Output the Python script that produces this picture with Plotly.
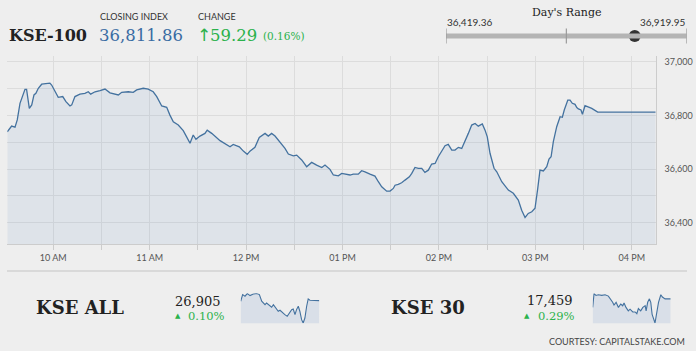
import plotly.graph_objects as go

W, H = 696, 351

# ---------------- data ----------------
times = ["09:31:24","09:34:06","09:36:12","09:37:36","09:39:18","09:41:00","09:42:24","09:43:24","09:45:06","09:46:36",
         "09:48:00","09:49:12","09:50:42","09:52:48","09:55:54","09:57:54","09:59:00","10:01:06","10:03:06","10:05:54",
         "10:07:54","10:10:24","10:11:30","10:13:30","10:16:36","10:19:42","10:21:48","10:23:18","10:26:00","10:29:06",
         "10:32:12","10:35:18","10:40:30","10:42:36","10:46:42","10:49:48","10:51:54","10:56:00","10:59:06","11:02:12",
         "11:04:24","11:07:30","11:10:36","11:12:36","11:14:42","11:17:48","11:20:54","11:23:00","11:25:06","11:27:06",
         "11:28:48","11:31:18","11:34:24","11:35:48","11:38:36","11:43:48","11:47:54","11:50:00","11:52:00","11:55:48",
         "11:58:18","12:00:42","12:02:24","12:05:30","12:08:12","12:11:48","12:13:48","12:15:54","12:18:00","12:21:06",
         "12:24:12","12:26:18","12:29:24","12:31:30","12:34:36","12:37:42","12:40:48","12:43:54","12:47:06","12:49:06",
         "12:52:12","12:54:18","12:57:24","12:59:30","13:02:36","13:04:42","13:06:42","13:09:48","13:11:54","13:14:00",
         "13:17:06","13:20:12","13:22:18","13:24:24","13:27:30","13:29:36","13:31:36","13:32:42","13:34:42","13:36:48",
         "13:38:54","13:41:36","13:43:06","13:45:06","13:47:12","13:49:18","13:51:18","13:53:24","13:55:30","13:57:36",
         "13:59:36","14:01:42","14:03:48","14:05:48","14:08:00","14:10:00","14:12:06","14:14:12","14:16:12","14:18:18",
         "14:20:24","14:22:30","14:24:30","14:27:00","14:28:42","14:30:06","14:31:48","14:34:18","14:36:00","14:39:06",
         "14:43:12","14:46:18","14:49:24","14:51:30","14:53:36","14:55:36","14:57:48","14:59:48","15:01:30","15:02:54",
         "15:05:00","15:07:06","15:08:30","15:09:48","15:11:12","15:13:18","15:15:24","15:16:48","15:18:00","15:20:12",
         "15:21:36","15:23:00","15:24:42","15:25:48","15:26:48","15:28:24","15:29:18","15:30:54","15:35:06","15:38:48",
         "16:14:54"]
kse100 = [36739,36760,36756,36783,36845,36870,36897,36897,36826,36839,
          36876,36882,36901,36916,36917,36920,36913,36888,36867,36870,
          36851,36835,36839,36870,36879,36882,36888,36879,36888,36892,
          36898,36884,36876,36886,36888,36886,36895,36901,36898,36888,
          36870,36835,36830,36801,36776,36764,36743,36720,36696,36727,
          36711,36723,36733,36745,36733,36706,36690,36683,36692,36683,
          36667,36655,36667,36681,36718,36733,36723,36733,36723,36702,
          36677,36656,36649,36652,36634,36609,36625,36615,36606,36615,
          36599,36578,36575,36584,36581,36578,36581,36581,36594,36590,
          36581,36574,36553,36534,36518,36518,36528,36540,36543,36549,
          36559,36571,36584,36606,36603,36603,36588,36596,36619,36621,
          36646,36665,36687,36692,36671,36671,36681,36677,36702,36733,
          36764,36770,36760,36768,36745,36720,36659,36603,36590,36553,
          36522,36510,36485,36447,36420,36435,36441,36454,36528,36596,
          36593,36609,36637,36646,36702,36758,36795,36793,36820,36857,
          36857,36845,36841,36829,36824,36820,36804,36836,36826,36812,
          36812]

y_ticks = [36400, 36600, 36800, 37000]
x_tick_labels = ["10 AM", "11 AM", "12 PM", "01 PM", "02 PM", "03 PM", "04 PM"]

closing_index = 36811.86
change = 59.29
change_pct = 0.16
day_low = 36419.36
day_high = 36919.95

# sparklines (minutes since open)
all_min = [0,10,22,34,48,65,82,96,108,116,125,133,147,159,168,181,193,202,215,227,239,250,262,270,279,287,296,304,313,321,330,339,347,356,373,404]
all_val = [26898,26971,26953,26982,26960,26978,26982,26971,26898,26879,26861,26879,26850,26832,26861,26824,26788,26799,26769,26751,
           26733,26769,26806,26813,26751,26806,26843,26788,26696,26659,26714,26843,26923,26909,26905,26905]
k30_min = [0,7,17,29,47,64,81,93,103,110,121,133,145,155,162,172,184,193,207,219,228,236,248,259,271,276,284,293,300,307,314,322,328,340,352,360,374,403]
k30_val = [17382,17506,17490,17496,17490,17496,17484,17459,17428,17403,17428,17382,17413,17397,17422,17382,17351,17366,17341,17341,
           17326,17372,17351,17382,17397,17351,17428,17459,17428,17320,17273,17242,17304,17428,17496,17475,17459,17459]
kse_all_close = "26,905"
kse_all_pct = "0.10%"
kse30_close = "17,459"
kse30_pct = "0.29%"

# ---------------- style ----------------
BG = "#eeeeee"
LINE = "#44729f"
FILL = "rgba(110,150,200,0.12)"
GRID = "#dcdcdc"
GREEN = "#2bb24c"
BLUE = "#3a6ca3"
DARK = "#222222"

def px(x):
    return x / W

def py(y):
    return 1 - y / H

day = "2019-01-01 "
xs = [day + t for t in times]

fig = go.Figure()
fig.add_trace(go.Scatter(x=xs, y=kse100, mode="lines", line=dict(color=LINE, width=1.3),
                         fill="tozeroy", fillcolor=FILL, hoverinfo="skip", xaxis="x", yaxis="y"))

# day's range dot
fig.add_trace(go.Scatter(x=[closing_index], y=[0], mode="markers",
                         marker=dict(color="#333333", size=12), xaxis="x3", yaxis="y3", hoverinfo="skip"))

# sparklines
fig.add_trace(go.Scatter(x=all_min, y=all_val, mode="lines", line=dict(color=LINE, width=1.1),
                         fill="tozeroy", fillcolor="rgba(110,150,200,0.17)", xaxis="x4", yaxis="y4", hoverinfo="skip"))
fig.add_trace(go.Scatter(x=k30_min, y=k30_val, mode="lines", line=dict(color=LINE, width=1.1),
                         fill="tozeroy", fillcolor="rgba(110,150,200,0.17)", xaxis="x5", yaxis="y5", hoverinfo="skip"))

tickfont = dict(family="Lato", size=9, color="#555555")
fig.update_layout(
    width=W, height=H, margin=dict(l=0, r=0, t=0, b=0),
    paper_bgcolor=BG, plot_bgcolor=BG, showlegend=False,
    xaxis=dict(domain=[px(7.3), px(655.7)], type="date",
               range=[day + "09:31:24", day + "16:14:54"],
               tickvals=[day + h for h in ["10:00", "11:00", "12:00", "13:00", "14:00", "15:00", "16:00"]],
               ticktext=x_tick_labels,
               showgrid=True, gridcolor=GRID, gridwidth=1,
               ticks="outside", ticklen=5, tickcolor="#cccccc",
               minor=dict(dtick=1800000, tick0=day + "09:30", showgrid=True, gridcolor=GRID,
                          ticks="outside", ticklen=5, tickcolor="#cccccc"),
               showline=True, linecolor="#cccccc", linewidth=1,
               tickfont=tickfont, zeroline=False, automargin=False, fixedrange=True),
    yaxis=dict(domain=[py(244.3), py(56.3)], range=[36320, 37020], side="right",
               tickvals=y_ticks, tickformat=",d",
               showgrid=True, gridcolor=GRID,
               minor=dict(dtick=100, tick0=36400, showgrid=True, gridcolor=GRID),
               showline=True, linecolor="#cccccc", ticks="", ticklabelstandoff=6,
               tickfont=tickfont, zeroline=False, automargin=False),
    xaxis3=dict(domain=[px(446), px(686.7)], range=[day_low, day_high], visible=False),
    yaxis3=dict(domain=[py(44), py(28)], range=[-1, 1], visible=False),
    xaxis4=dict(domain=[px(240.7), px(319.3)], range=[0, 404], visible=False),
    yaxis4=dict(domain=[py(323.3), py(293.3)], range=[min(all_val) - 3, max(all_val) + 3], visible=False),
    xaxis5=dict(domain=[px(592.7), px(670.7)], range=[0, 403], visible=False),
    yaxis5=dict(domain=[py(323.3), py(293.3)], range=[min(k30_val) - 3, max(k30_val) + 3], visible=False),
)

mid = (day_low + day_high) / 2
shapes = [
    dict(type="line", xref="x3", yref="y3", x0=day_low, x1=day_high, y0=0, y1=0,
         line=dict(color="#b4b4b4", width=5)),
]
for v in [day_low, mid, day_high]:
    shapes.append(dict(type="line", xref="x3", yref="y3", x0=v, x1=v, y0=-0.95, y1=0.95,
                       line=dict(color="#9a9a9a", width=1.2)))
shapes.append(dict(type="line", xref="paper", yref="paper", x0=px(7), x1=px(687), y0=py(271), y1=py(271),
                   line=dict(color="#d2d2d2", width=1.5)))
fig.update_layout(shapes=shapes)

def ann(text, x, y, size, color, family="Lato", xanchor="left", yanchor="middle", bold=False):
    if bold:
        text = "<b>" + text + "</b>"
    fig.add_annotation(text=text, x=px(x), y=py(y), xref="paper", yref="paper", showarrow=False,
                       xanchor=xanchor, yanchor=yanchor, font=dict(family=family, size=size, color=color))

SERIF = "DejaVu Serif"
ann("KSE-100", 7, 35, 16, DARK, SERIF, bold=True)
ann("CLOSING INDEX", 98, 17, 9, "#333333")
ann(f"{closing_index:,.2f}", 97, 35, 16.5, BLUE, SERIF)
ann("CHANGE", 196, 17, 9, "#333333")
ann("↑", 195, 35, 17, GREEN, "DejaVu Sans")
ann(f"{change:.2f}", 208, 35, 16.5, GREEN, SERIF)
ann(f"({change_pct:.2f}%)", 261, 36, 10.5, GREEN, SERIF)

ann("Day's Range", 567, 13, 11, DARK, SERIF, xanchor="center")
ann(f"{day_low:,.2f}", 445, 22, 10, "#333333")
ann(f"{day_high:,.2f}", 687, 22, 10, "#333333", xanchor="right")

ann("KSE ALL", 80, 307, 18, DARK, SERIF, xanchor="center", bold=True)
ann(kse_all_close, 198, 301, 13, DARK, SERIF, xanchor="center")
ann("▲", 173, 316, 7, GREEN, "DejaVu Sans")
ann(kse_all_pct, 186, 316, 11.5, GREEN, SERIF)

ann("KSE 30", 428, 307, 18, DARK, SERIF, xanchor="center", bold=True)
ann(kse30_close, 550, 300, 13, DARK, SERIF, xanchor="center")
ann("▲", 522, 316, 7, GREEN, "DejaVu Sans")
ann(kse30_pct, 536, 316, 11.5, GREEN, SERIF)

ann("COURTESY: CAPITALSTAKE.COM", 687, 341, 9, "#444444", xanchor="right")

fig.write_html("out.html", config=dict(displayModeBar=False))
